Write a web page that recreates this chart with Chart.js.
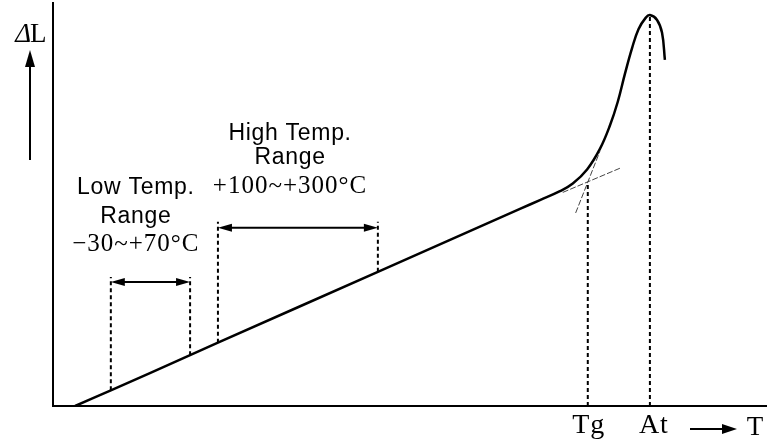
<!DOCTYPE html>
<html>
<head>
<meta charset="utf-8">
<script src="https://cdn.jsdelivr.net/npm/chart.js@4"></script>
<style>
  html, body { margin: 0; padding: 0; background: #fff; }
</style>
</head>
<body>
<canvas id="c" width="767" height="444"></canvas>
<script>
// schematic expansion curve, arbitrary units (T across 0-100, dL up 0-100)
const curveT  = [3.1, 8.1, 19.2, 23.1, 45.5, 65.4, 68.2, 71.0, 72.8, 74.8, 76.6, 78.0, 79.1, 80.1, 81.1, 82.0, 83.0, 83.6, 84.6, 85.3, 85.7];
const curveDL = [0.0, 3.9, 12.6, 15.7, 33.3, 48.9, 51.1, 53.3, 55.2, 58.7, 63.8, 69.6, 75.5, 82.4, 88.8, 93.5, 96.3, 97.0, 95.8, 92.6, 85.9];

// measuring ranges: edges along T, where the dashed guides meet the curve, top of guides, arrow level
const lowRangeT = [8.1, 19.2];
const lowRangeBase = [3.9, 12.6];
const lowRangeTop = 32.0;
const lowArrowDL = 30.8;
const lowRangeText = ['Low Temp.', 'Range', '\u221230~+70\u00B0C'];

const highRangeT = [23.1, 45.5];
const highRangeBase = [15.7, 33.3];
const highRangeTop = 45.7;
const highArrowDL = 44.2;
const highRangeText = ['High Temp.', 'Range', '+100~+300\u00B0C'];

// tangent construction for Tg
const glassTanT = [71.4, 79.4];
const glassTanDL = [53.0, 59.0];
const rubberTanT = [73.2, 76.6];
const rubberTanDL = [47.9, 63.2];

// marked temperatures on the T axis
const markerNames = ['Tg', 'At'];
const markerT = [74.9, 83.6];
const markerDL = [55.6, 97.0];

const pts = (xs, ys) => xs.map((v, i) => ({ x: v, y: ys[i] }));

const guide = (data, extra) => Object.assign({
    data, borderColor: '#000', borderWidth: 2, borderDash: [4, 3],
    pointRadius: 0, showLine: true, tension: 0,
}, extra || {});

const datasets = [];
lowRangeT.forEach((t, i) => datasets.push(guide([{ x: t, y: lowRangeBase[i] }, { x: t, y: lowRangeTop }])));
highRangeT.forEach((t, i) => datasets.push(guide([{ x: t, y: highRangeBase[i] }, { x: t, y: highRangeTop }])));
markerT.forEach((t, i) => datasets.push(guide([{ x: t, y: 0 }, { x: t, y: markerDL[i] }])));
datasets.push(guide(pts(glassTanT, glassTanDL), { borderWidth: 1, borderColor: '#444', borderDash: [6, 2] }));
datasets.push(guide(pts(rubberTanT, rubberTanDL), { borderWidth: 1, borderColor: '#444', borderDash: [6, 2] }));
datasets.push({
    data: pts(curveT, curveDL), borderColor: '#000', borderWidth: 2.5,
    pointRadius: 0, showLine: true, tension: 0.4,
});

function head(ctx, x, y, dx, dy, len, half) {
    // filled arrowhead with tip at (x, y) pointing along (dx, dy)
    ctx.beginPath();
    ctx.moveTo(x, y);
    ctx.lineTo(x - dx * len - dy * half, y - dy * len + dx * half);
    ctx.lineTo(x - dx * len + dy * half, y - dy * len - dx * half);
    ctx.closePath();
    ctx.fill();
}

function doubleArrow(ctx, x1, x2, y) {
    ctx.lineWidth = 2;
    ctx.beginPath();
    ctx.moveTo(x1 + 6, y);
    ctx.lineTo(x2 - 6, y);
    ctx.stroke();
    head(ctx, x1, y, -1, 0, 14, 4);
    head(ctx, x2, y, 1, 0, 14, 4);
}

function textBlock(ctx, lines, cx, ys) {
    lines.forEach((s, i) => {
        if (i < 2) {
            ctx.font = '23px "Liberation Sans", Arial, sans-serif';
            ctx.letterSpacing = '0.7px';
        } else {
            ctx.font = '25px "Liberation Serif", "Times New Roman", serif';
            ctx.letterSpacing = '1px';
        }
        ctx.fillText(s, cx, ys[i]);
    });
    ctx.letterSpacing = '0px';
}

const annotate = {
    id: 'annotate',
    afterDatasetsDraw(chart) {
        const { ctx, chartArea: a, scales: { x, y } } = chart;
        ctx.save();
        ctx.fillStyle = '#000';
        ctx.strokeStyle = '#000';
        ctx.textAlign = 'center';
        ctx.textBaseline = 'middle';

        doubleArrow(ctx, x.getPixelForValue(lowRangeT[0]), x.getPixelForValue(lowRangeT[1]), y.getPixelForValue(lowArrowDL));
        doubleArrow(ctx, x.getPixelForValue(highRangeT[0]), x.getPixelForValue(highRangeT[1]), y.getPixelForValue(highArrowDL));

        textBlock(ctx, lowRangeText, x.getPixelForValue(11.6), [54.1, 46.9, 40.0].map(v => y.getPixelForValue(v)));
        textBlock(ctx, highRangeText, x.getPixelForValue(33.2), [67.7, 61.5, 54.6].map(v => y.getPixelForValue(v)));

        // axis names
        ctx.font = '28px "Liberation Serif", "Times New Roman", serif';
        ctx.letterSpacing = '1px';
        markerNames.forEach((n, i) => ctx.fillText(n, x.getPixelForValue(markerT[i]) + (i ? 4 : 1), a.bottom + 20));
        ctx.letterSpacing = '0px';
        ctx.font = '27px "Liberation Serif", "Times New Roman", serif';
        ctx.fillText('T', a.right - 12, a.bottom + 22);
        ctx.lineWidth = 2;
        ctx.beginPath();
        ctx.moveTo(a.right - 77, a.bottom + 23);
        ctx.lineTo(a.right - 40, a.bottom + 23);
        ctx.stroke();
        head(ctx, a.right - 30, a.bottom + 23, 1, 0, 15, 5);

        ctx.font = 'italic 27px "Liberation Serif", "Times New Roman", serif';
        ctx.textAlign = 'right';
        ctx.fillText('\u0394', a.left - 22, a.top + 32);
        ctx.font = '27px "Liberation Serif", "Times New Roman", serif';
        ctx.textAlign = 'left';
        ctx.fillText('L', a.left - 23, a.top + 32);
        ctx.beginPath();
        ctx.moveTo(a.left - 23, a.top + 157);
        ctx.lineTo(a.left - 23, a.top + 60);
        ctx.stroke();
        head(ctx, a.left - 23, a.top + 47, 0, -1, 17, 5);
        ctx.restore();
    }
};

new Chart(document.getElementById('c'), {
    type: 'scatter',
    data: { datasets },
    plugins: [annotate],
    options: {
        responsive: false,
        animation: false,
        devicePixelRatio: 1,
        layout: { padding: { left: 53, top: 3, right: 0, bottom: 38 } },
        plugins: { legend: { display: false }, tooltip: { enabled: false } },
        scales: {
            x: {
                min: 0, max: 100,
                grid: { display: false, drawTicks: false },
                ticks: { display: false },
                border: { display: true, color: '#000', width: 2 },
                afterFit: s => { s.height = 0; },
            },
            y: {
                min: 0, max: 100,
                grid: { display: false, drawTicks: false },
                ticks: { display: false },
                border: { display: true, color: '#000', width: 2 },
                afterFit: s => { s.width = 0; },
            },
        },
    },
});
</script>
</body>
</html>
